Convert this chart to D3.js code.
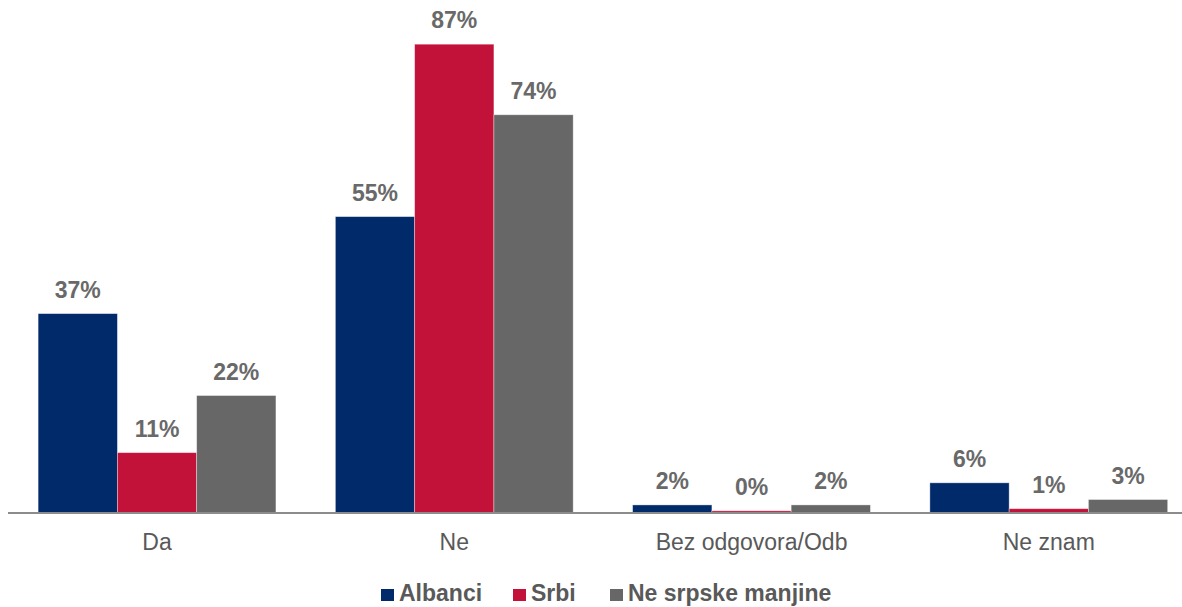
<!DOCTYPE html>
<html>
<head>
<meta charset="utf-8">
<script src="https://d3js.org/d3.v7.min.js"></script>
<style>
  html, body { margin: 0; padding: 0; background: #ffffff; }
  svg { display: block; font-family: "Liberation Sans", Arial, sans-serif; }
</style>
</head>
<body>
<svg id="chart" width="1182" height="607"></svg>
<script>
const categories = ["Da", "Ne", "Bez odgovora/Odb", "Ne znam"];
const seriesNames = ["Albanci", "Srbi", "Ne srpske manjine"];
const albanci = [37, 55, 1.5, 5.6];
const srbi = [11.2, 87, 0.4, 0.8];
const neSrpske = [21.8, 73.9, 1.5, 2.5];
const seriesValues = [albanci, srbi, neSrpske];
const colors = ["#002a6a", "#c3123a", "#676767"];

const svg = d3.select("#chart");
const baseY = 513;

const x0 = d3.scaleBand().domain(categories).range([8.4, 1197.4]).paddingInner(0.2).paddingOuter(0.1);
const x1 = d3.scaleBand().domain(seriesNames).range([0, x0.bandwidth()]);
const y = d3.scaleLinear().domain([0, 95.2]).range([baseY, 0]);

const rows = categories.map((c, i) => ({
  cat: c,
  vals: seriesNames.map((s, j) => ({ s, j, v: seriesValues[j][i] }))
}));

const groups = svg.append("g").selectAll("g").data(rows).join("g")
  .attr("transform", d => `translate(${x0(d.cat)},0)`);

groups.selectAll("rect").data(d => d.vals).join("rect")
  .attr("x", d => x1(d.s))
  .attr("y", d => y(d.v))
  .attr("width", x1.bandwidth())
  .attr("height", d => baseY - y(d.v))
  .attr("fill", d => colors[d.j])
  .attr("stroke", "rgba(255,255,255,0.45)")
  .attr("stroke-width", 0.8);

groups.selectAll("text").data(d => d.vals).join("text")
  .attr("x", d => x1(d.s) + x1.bandwidth() / 2)
  .attr("y", d => y(d.v) - 16)
  .attr("text-anchor", "middle")
  .attr("font-size", 23)
  .attr("font-weight", "bold")
  .attr("fill", "#696969")
  .text(d => Math.round(d.v) + "%");

// x axis
const xAxis = d3.axisBottom(x0).tickSize(0).tickPadding(0);
const ax = svg.append("g").attr("transform", `translate(0,${baseY})`).call(xAxis);
ax.select(".domain").attr("stroke", "#8c8c8c").attr("stroke-width", 2).attr("d", `M8,0H1182`);
ax.selectAll(".tick text")
  .attr("y", 37).attr("dy", 0)
  .attr("font-size", 23)
  .attr("font-family", "\"Liberation Sans\", Arial, sans-serif")
  .attr("fill", "#595959");

// legend
const legend = svg.append("g");
const legendStarts = [381, 513, 610];
const items = legend.selectAll("g").data(seriesNames).join("g")
  .attr("transform", (d, i) => `translate(${legendStarts[i]},0)`);
items.append("rect")
  .attr("x", 0).attr("y", 589).attr("width", 13).attr("height", 12)
  .attr("fill", (d, i) => colors[i]);
items.append("text")
  .attr("x", 18).attr("y", 601)
  .attr("font-size", 23)
  .attr("font-weight", "bold")
  .attr("fill", "#595959")
  .text(d => d);
</script>
</body>
</html>
